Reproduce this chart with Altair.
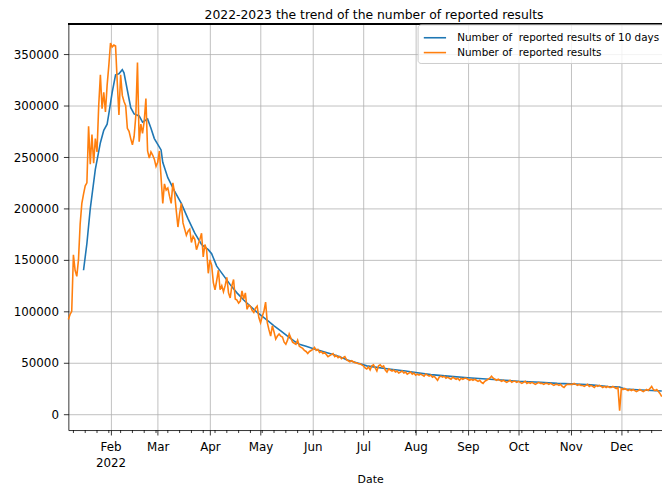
import altair as alt
import pandas as pd

title_text = "2022-2023 the trend of the number of reported results"
blue_name = "Number of\u00a0 reported results of 10 days"
orange_name = "Number of\u00a0 reported results"
blue_color = "#1f77b4"
orange_color = "#ff7f0e"

# daily reported results, 2022-01-07 .. 2022-12-25
start_date = "2022-01-07"
jan = [92000, 97000, 100000, 155000, 140000, 134000, 150000, 185000, 205000, 214000,
       222000, 225000, 280000, 243000, 272000, 244000, 268000, 255000, 300000, 330000,
       297000, 313000, 294000, 320000, 339000]
feb = [361000, 357000, 359000, 358000, 323000, 291000, 330000, 310000, 304000, 300000,
       278000, 275000, 268000, 262000, 270000, 290000, 342000, 265000, 282000, 273000,
       285000, 307000, 256000, 249000, 255000, 252000, 248000, 241000]
mar = [245000, 256000, 230000, 205000, 224000, 218000, 220000, 212000, 205000, 225000,
       215000, 198000, 182000, 195000, 205000, 186000, 180000, 174000, 178000, 180000,
       167000, 173000, 170000, 160000, 165000, 170000, 176000, 153000, 165000, 160000,
       137000]
apr = [150000, 145000, 128000, 121000, 130000, 140000, 121000, 125000, 119000, 125000,
       133000, 118000, 113000, 125000, 131000, 112000, 111000, 108000, 110000, 120000,
       112000, 118000, 102000, 106000, 105000, 101000, 99000, 103000, 105000, 94000]
may = [89000, 95000, 100000, 109000, 89000, 82000, 76000, 86000, 80000, 73000,
       76000, 78000, 76000, 75000, 70000, 68000, 72000, 78000, 74000, 70000,
       69000, 68000, 72000, 66000, 65000, 64000, 62000, 61000, 59000, 61000, 62000]
jun = [63000, 65000, 62000, 63000, 60000, 61000, 59000, 60000, 58000, 56000,
       57000, 58000, 59000, 56000, 57000, 55000, 56000, 54000, 55000, 56000,
       53000, 52000, 51000, 52000, 51000, 50000, 50000, 49000, 49000, 48000]
jul = [47000, 45000, 44000, 46000, 43000, 47000, 48000, 45000, 42000, 47000,
       48000, 46000, 47000, 43000, 41000, 44000, 43000, 42000, 43000, 41000,
       42000, 40000, 41000, 42000, 40000, 41000, 39000, 40000, 41000, 39000, 40000]
aug = [38000, 39000, 38000, 39000, 38000, 37000, 39000, 38000, 37000, 38000,
       36000, 37000, 35000, 33000, 36000, 37000, 36000, 37000, 35000, 36000,
       35000, 34000, 36000, 35000, 34000, 35000, 33000, 35000, 34000, 35000, 35000]
sep = [34000, 33000, 34000, 33000, 34000, 33000, 32000, 33000, 31000, 30000,
       32000, 33000, 34000, 35000, 37000, 35000, 34000, 33000, 34000, 33000,
       32000, 33000, 32000, 31000, 32000, 33000, 31000, 32000, 32000, 31000]
oct_ = [32000, 31000, 30000, 31000, 32000, 30000, 31000, 30000, 31000, 30000,
        29000, 30000, 31000, 30000, 30000, 29000, 30000, 30000, 29000, 30000,
        29000, 28000, 29000, 29000, 28000, 29000, 27000, 26000, 28000, 29000, 29000]
nov = [29000, 29000, 30000, 29000, 28000, 29000, 28000, 28000, 27000, 28000,
       29000, 27000, 28000, 27000, 26000, 28000, 27000, 28000, 27000, 26000,
       27000, 26000, 27000, 26000, 26000, 27000, 26000, 25000, 26000, 3500]
dec = [25000, 24000, 25000, 24000, 23000, 24000, 23000, 24000, 23000, 22000,
       23000, 24000, 23000, 22000, 23000, 24000, 23000, 25000, 27000, 24000,
       23000, 24000, 22000, 20000, 17000]

daily_reported = jan + feb + mar + apr + may + jun + jul + aug + sep + oct_ + nov + dec

# 10-day average line
avg_dates = ["2022-01-16", "2022-01-18", "2022-01-20", "2022-01-23", "2022-01-26", "2022-01-28",
             "2022-01-30", "2022-01-31", "2022-02-02", "2022-02-04", "2022-02-06", "2022-02-08",
             "2022-02-09", "2022-02-11", "2022-02-13", "2022-02-15", "2022-02-18", "2022-02-20",
             "2022-02-23", "2022-02-25", "2022-02-27", "2022-03-03", "2022-03-04", "2022-03-07",
             "2022-03-11", "2022-03-15", "2022-03-19", "2022-03-23", "2022-03-27", "2022-03-31",
             "2022-04-02", "2022-04-05", "2022-04-09", "2022-04-13", "2022-04-17", "2022-04-21",
             "2022-04-25", "2022-04-29", "2022-05-03", "2022-05-06", "2022-05-09", "2022-05-13",
             "2022-05-17", "2022-05-21", "2022-05-24", "2022-05-28", "2022-06-01", "2022-06-05",
             "2022-06-09", "2022-06-13", "2022-06-17", "2022-06-21", "2022-06-25", "2022-06-29",
             "2022-07-03", "2022-07-07", "2022-07-16", "2022-07-26", "2022-08-01", "2022-08-10",
             "2022-08-20", "2022-09-01", "2022-09-14", "2022-09-23", "2022-10-01", "2022-10-14",
             "2022-10-24", "2022-11-01", "2022-11-13", "2022-11-23", "2022-11-30", "2022-12-03",
             "2022-12-13", "2022-12-25"]
avg_values = [140000, 166000, 200000, 238000, 264000, 276000, 282000, 292000,
              313000, 330000, 331000, 335000, 332000, 315000, 298000, 292000, 290000, 284000,
              287000, 278000, 268000,
              257000, 245000, 230000, 217000, 205000, 190000, 176000, 165000, 160000,
              156000, 144000, 135000, 126000, 118000, 111000, 105000, 99000,
              94000, 90000, 86000, 81000, 76000, 71000, 68000, 66000,
              64000, 62000, 60000, 58000, 56000, 53000, 51000, 49000,
              47000, 46000, 44000, 42000,
              40500, 38500, 37000,
              35500, 34000, 33000,
              32000, 31000, 30000,
              29500, 28500, 27000, 26500,
              24500, 23500, 22500]

y_ticks = [0, 50000, 100000, 150000, 200000, 250000, 300000, 350000]
month_starts = list(range(2, 13))

assert len(avg_dates) == len(avg_values)

daily_df = pd.DataFrame({
    "date": pd.date_range(start_date, periods=len(daily_reported), freq="D"),
    "value": daily_reported,
    "series": orange_name,
})
avg_df = pd.DataFrame({
    "date": pd.to_datetime(avg_dates),
    "value": avg_values,
    "series": blue_name,
})
minor_df = pd.DataFrame({"date": pd.date_range("2022-01-10", "2022-12-26", freq="7D")})

FONT = "DejaVu Sans"

x_scale = alt.Scale(
    domain=[alt.DateTime(year=2022, month=1, date=7), alt.DateTime(year=2022, month=12, date=31)],
    range=[0, 610],
)
y_scale = alt.Scale(domain=[-15400, 380000], nice=False, zero=False)
y_axis = alt.Axis(values=y_ticks, format="d", title=None, grid=True, tickSize=5,
                  labelPadding=5)
color_scale = alt.Scale(domain=[blue_name, orange_name], range=[blue_color, orange_color])
legend = alt.Legend(
    title=None, orient="none", legendX=353, legendY=1,
    symbolType="M-1.5,0H1.5", symbolSize=225, symbolStrokeWidth=1.6, symbolOffset=4,
    labelFontSize=10.5, labelFont=FONT, labelColor="black", labelLimit=400, labelOffset=14,
    padding=5, strokeColor="#cccccc", fillColor="rgba(255,255,255,0.8)", cornerRadius=3,
    rowPadding=1,
)

bottom_axis = alt.Axis(
    values=[alt.DateTime(year=2022, month=m, date=1) for m in month_starts],
    labelExpr="month(datum.value) == 1 ? ['Feb', '2022'] : timeFormat(datum.value, '%b')",
    title="Date", grid=True, tickSize=5, labelPadding=7, labelLineHeight=16,
    labelOverlap=False, labelFlush=False, titleFontSize=11, titleFontWeight="normal",
    titlePadding=5,
)

blue = alt.Chart(avg_df).mark_line(strokeWidth=1.6).encode(
    x=alt.X("date:T", scale=x_scale, axis=bottom_axis),
    y=alt.Y("value:Q", scale=y_scale, axis=y_axis),
    color=alt.Color("series:N", scale=color_scale, legend=legend),
)
orange = alt.Chart(daily_df).mark_line(strokeWidth=1.6).encode(
    x=alt.X("date:T", scale=x_scale, axis=bottom_axis),
    y=alt.Y("value:Q", scale=y_scale, axis=y_axis),
    color=alt.Color("series:N", scale=color_scale, legend=legend),
)
minor = alt.Chart(minor_df).mark_rule(color="black", strokeWidth=0.8).encode(
    x=alt.X("date:T", scale=x_scale, axis=bottom_axis),
    y=alt.value(411),
    y2=alt.value(414),
)
# top spine of the plot frame
frame_top = alt.Chart(minor_df).mark_rule(color="black", strokeWidth=0.8).encode(
    x=alt.value(0), x2=alt.value(610), y=alt.value(0.5),
)

chart = (
    alt.layer(blue, orange, minor, frame_top)
    .properties(
        width=600, height=411,
        autosize=alt.AutoSizeParams(type="none"),
        padding={"left": 61, "top": 13, "right": 0, "bottom": 56},
        title=alt.Title(title_text, fontSize=12.5, fontWeight="normal", font=FONT,
                        color="black", offset=3, dx=9, dy=11, baseline="alphabetic",
                        anchor="middle"),
    )
    .configure(font=FONT)
    .configure_view(strokeWidth=0)
    .configure_axis(
        labelFont=FONT, labelFontSize=12, labelColor="black",
        titleFont=FONT, titleColor="black",
        domainColor="black", domainWidth=0.8, tickColor="black", tickWidth=0.8,
        gridColor="#b0b0b0", gridWidth=0.8,
    )
)

chart.save("out.html", embed_options={"renderer": "svg", "actions": False})
